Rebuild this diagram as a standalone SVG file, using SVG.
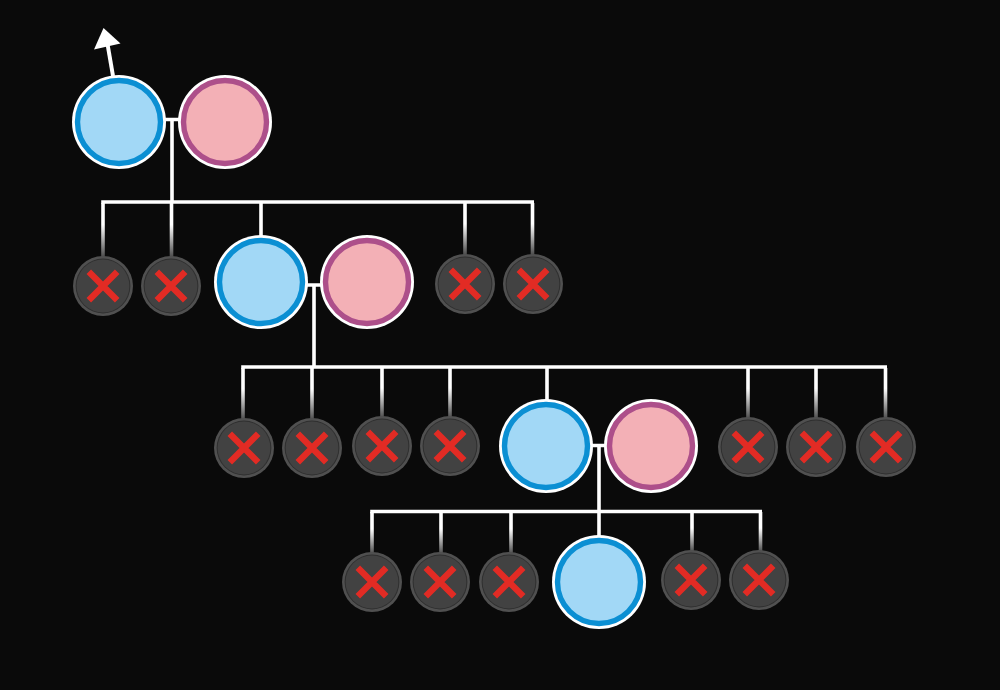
<svg xmlns="http://www.w3.org/2000/svg" xmlns:xlink="http://www.w3.org/1999/xlink" width="1000" height="690" viewBox="0 0 1000 690">
<style>
.w{stroke:#fff;stroke-width:3.6;fill:none}
.f{fill:url(#fade)}
.halo{fill:#fff}
.mb{fill:#a2d8f6;stroke:#0b8fd3;stroke-width:5.4}
.fp{fill:#f3b0b6;stroke:#ad4f8a;stroke-width:5.4}
.d1{fill:#505050}
.d2{fill:#2f2f2f}
.d3{fill:#424242}
.x{stroke:#e22b24;stroke-width:6.4;fill:none}
</style>
<defs>
<linearGradient id="fade" x1="0" y1="0" x2="0" y2="1"><stop offset="0.4" stop-color="#fff"/><stop offset="1" stop-color="#4a4a4a"/></linearGradient>
<g id="male"><circle class="halo" r="47"/><circle class="mb" r="41.500"/></g>
<g id="female"><circle class="halo" r="47"/><circle class="fp" r="41.500"/></g>
<g id="dead"><circle class="d1" r="30"/><circle class="d2" r="27.400"/><circle class="d3" r="26.400"/><path class="x" d="M-14.200-14.200 14.200 14.200M-14.200 14.200 14.200-14.200"/></g>
</defs>
<rect width="1000" height="690" fill="#0a0a0a"/>
<g id="connectors">
<path stroke="#fff" stroke-width="4" fill="none" d="M113 76 107.500 44"/>
<polygon points="103.500,28 120.500,43.500 94,49.500" fill="#fff"/>
<path class="w" d="M165 119.500H180M172 119.500V202M101.200 202H534M261 202V238"/>
<rect class="f" x="101.200" y="203" width="3.600" height="54"/>
<rect class="f" x="169.700" y="203" width="3.600" height="54"/>
<rect class="f" x="463.200" y="203" width="3.600" height="52"/>
<rect class="f" x="530.700" y="203" width="3.600" height="52"/>
<path class="w" d="M306 285H322M314 285V367M241.200 367H887M547 367V402"/>
<rect class="f" x="241.200" y="368" width="3.600" height="52"/>
<rect class="f" x="310.200" y="368" width="3.600" height="52"/>
<rect class="f" x="380.200" y="368" width="3.600" height="50"/>
<rect class="f" x="448.200" y="368" width="3.600" height="50"/>
<rect class="f" x="746.200" y="368" width="3.600" height="51"/>
<rect class="f" x="814.200" y="368" width="3.600" height="51"/>
<rect class="f" x="883.700" y="368" width="3.600" height="51"/>
<path class="w" d="M591 445.500H607M599 445.500V537M370.200 511.500H762"/>
<rect class="f" x="370.200" y="512" width="3.600" height="42"/>
<rect class="f" x="439.200" y="512" width="3.600" height="42"/>
<rect class="f" x="509.200" y="512" width="3.600" height="42"/>
<rect class="f" x="690.200" y="512" width="3.600" height="40"/>
<rect class="f" x="758.700" y="512" width="3.600" height="40"/>
</g>
<g id="n1"><use xlink:href="#male" x="119" y="122"/></g>
<g id="n2"><use xlink:href="#female" x="225" y="122"/></g>
<g id="n3"><use xlink:href="#dead" x="103" y="286"/></g>
<g id="n4"><use xlink:href="#dead" x="171" y="286"/></g>
<g id="n5"><use xlink:href="#male" x="261" y="282"/></g>
<g id="n6"><use xlink:href="#female" x="367" y="282"/></g>
<g id="n7"><use xlink:href="#dead" x="465" y="284"/></g>
<g id="n8"><use xlink:href="#dead" x="533" y="284"/></g>
<g id="n9"><use xlink:href="#dead" x="244" y="448"/></g>
<g id="n10"><use xlink:href="#dead" x="312" y="448"/></g>
<g id="n11"><use xlink:href="#dead" x="382" y="446"/></g>
<g id="n12"><use xlink:href="#dead" x="450" y="446"/></g>
<g id="n13"><use xlink:href="#male" x="546" y="446"/></g>
<g id="n14"><use xlink:href="#female" x="651" y="446"/></g>
<g id="n15"><use xlink:href="#dead" x="748" y="447"/></g>
<g id="n16"><use xlink:href="#dead" x="816" y="447"/></g>
<g id="n17"><use xlink:href="#dead" x="886" y="447"/></g>
<g id="n18"><use xlink:href="#dead" x="372" y="582"/></g>
<g id="n19"><use xlink:href="#dead" x="440" y="582"/></g>
<g id="n20"><use xlink:href="#dead" x="509" y="582"/></g>
<g id="n21"><use xlink:href="#male" x="599" y="582"/></g>
<g id="n22"><use xlink:href="#dead" x="691" y="580"/></g>
<g id="n23"><use xlink:href="#dead" x="759" y="580"/></g>
</svg>
